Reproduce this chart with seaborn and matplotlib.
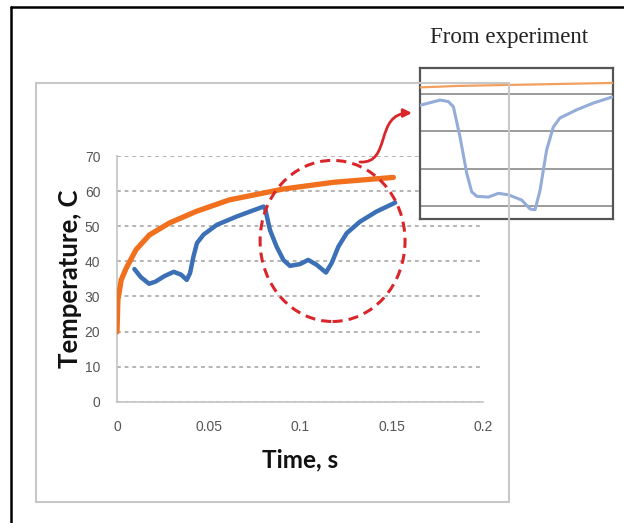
import matplotlib
matplotlib.use("Agg")
import matplotlib.pyplot as plt
import seaborn as sns
import pandas as pd
from matplotlib.patches import Ellipse, Rectangle, FancyArrowPatch
from matplotlib.path import Path
from matplotlib.lines import Line2D

# simulated temperature (orange)
orange_time = [0, 0.0005, 0.0023, 0.005, 0.0104, 0.0177, 0.0286, 0.0432,
               0.0614, 0.0796, 0.0909, 0.1182, 0.151]
orange_temp = [19.9, 29.0, 34.7, 38.0, 43.3, 47.5, 50.9, 54.2,
               57.5, 59.4, 60.6, 62.5, 63.9]

# simulated temperature (blue)
blue_time = [0.0095, 0.013, 0.0175, 0.021, 0.026, 0.031, 0.035, 0.0381,
             0.0399, 0.0418, 0.0437, 0.0473, 0.0546, 0.0656, 0.0801,
             0.0809, 0.0836, 0.0872, 0.0909, 0.0945, 0.1, 0.1045, 0.1091,
             0.1142, 0.1173, 0.121, 0.1255, 0.1328, 0.1419, 0.152]
blue_temp = [37.8, 35.5, 33.6, 34.2, 35.8, 37.0, 36.2, 34.7,
             36.6, 41.4, 45.2, 47.6, 50.4, 52.8, 55.6,
             55.1, 48.9, 44.2, 40.4, 38.7, 39.2, 40.4, 39.0,
             36.8, 39.5, 44.2, 48.0, 51.3, 54.2, 56.7]

# inset "From experiment" (arbitrary units)
exp_x = [0, 10.4, 14.7, 17.3, 20.7, 24.2, 26.8, 29.4, 35.4, 40.6, 45.8,
         52.7, 57.0, 59.6, 62.2, 65.6, 69.1, 72.5, 81.2, 89.8, 99.4]
exp_blue = [53.5, 54.2, 54.0, 53.3, 49.3, 44.4, 41.9, 41.3, 41.2, 41.7, 41.5,
            40.8, 39.6, 39.5, 42.1, 47.5, 50.6, 51.8, 52.9, 53.8, 54.6]
exp_orange_x = [0, 20, 40, 60, 80, 100]
exp_orange = [55.9, 56.1, 56.2, 56.3, 56.4, 56.5]

y_ticks = [0, 10, 20, 30, 40, 50, 60, 70]
x_ticks = [0, 0.05, 0.1, 0.15, 0.2]
x_ticklabels = ["0", "0.05", "0.1", "0.15", "0.2"]

ORANGE = "#f0701e"
BLUE = "#3b6fb6"
RED = "#d9262b"
W, H = 624, 523


def fx(px):
    return px / W


def fy(py):
    return 1 - py / H


sns.set_style("white")
fig = plt.figure(figsize=(6.24, 5.23), dpi=100)

# black border (left and top only) and light grey chart frame
fig.add_artist(Line2D([fx(11), fx(11)], [fy(7), 0], color="black", lw=1.8))
fig.add_artist(Line2D([fx(11), 1], [fy(7), fy(7)], color="black", lw=1.8))
fig.add_artist(Rectangle((fx(36), fy(501.5)), fx(509) - fx(36), fy(83) - fy(501.5),
                         fill=False, ec="#c8c8c8", lw=1.5))

ax = fig.add_axes([fx(117), fy(401.7), fx(483) - fx(117), fy(156) - fy(401.7)])
sim_orange = pd.DataFrame({"time": orange_time, "temp": orange_temp})
sim_blue = pd.DataFrame({"time": blue_time, "temp": blue_temp})
sns.lineplot(data=sim_orange, x="time", y="temp", ax=ax, color=ORANGE, lw=3.8,
             sort=False, estimator=None, zorder=3)
sns.lineplot(data=sim_blue, x="time", y="temp", ax=ax, color=BLUE, lw=3.2,
             sort=False, estimator=None, zorder=3)

ax.set_xlim(0, 0.2)
ax.set_ylim(0, 70)
ax.set_yticks(y_ticks)
ax.set_xticks(x_ticks)
ax.set_xticklabels(x_ticklabels)
ax.yaxis.grid(True, ls=(0, (2.5, 2.5)), color="#a0a0a0", lw=1.1)
ax.xaxis.grid(False)
for side in ["top", "right"]:
    ax.spines[side].set_visible(False)
for side in ["left", "bottom"]:
    ax.spines[side].set_color("#c4c4c4")
    ax.spines[side].set_linewidth(1.2)
ax.tick_params(axis="y", length=0, pad=12, labelsize=10, labelcolor="#555555")
ax.tick_params(axis="x", length=0, pad=13, labelsize=10, labelcolor="#555555")
for lab in ax.get_xticklabels() + ax.get_yticklabels():
    lab.set_family("Liberation Sans")
ax.set_xlabel("")
ax.set_ylabel("")

fig.text(fx(300), fy(460), "Time, s", ha="center", va="center", family="Lato",
         weight="bold", size=17.5, color="#111111")
fig.text(fx(70), fy(279), "Temperature, C", ha="center", va="center", rotation=90,
         family="Lato", weight="bold", size=18.5, color="#111111")

# red dashed circle around the second dip
ax.add_patch(Ellipse((0.1178, 45.8), 0.0792, 45.9, fill=False, ec=RED, lw=2.2,
                     ls=(0, (3.3, 2.0)), clip_on=False, zorder=5))

# curved arrow to the inset
arrow_path = Path([(fx(360), fy(162)), (fx(392), fy(164)), (fx(374), fy(113)),
                   (fx(412), fy(113))],
                  [Path.MOVETO, Path.CURVE4, Path.CURVE4, Path.CURVE4])
fig.add_artist(FancyArrowPatch(path=arrow_path, transform=fig.transFigure,
                               arrowstyle="-|>", mutation_scale=12, color=RED, lw=2))

# inset from experiment
ins = fig.add_axes([fx(420), fy(219), fx(613) - fx(420), fy(68) - fy(219)])
ins.set_facecolor("white")
exp_o = pd.DataFrame({"x": exp_orange_x, "y": exp_orange})
exp_b = pd.DataFrame({"x": exp_x, "y": exp_blue})
sns.lineplot(data=exp_o, x="x", y="y", ax=ins, color="#f2a060", lw=1.6,
             sort=False, estimator=None, zorder=3)
sns.lineplot(data=exp_b, x="x", y="y", ax=ins, color="#93acd8", lw=2.2,
             sort=False, estimator=None, zorder=3)
ins.set_xlim(0, 100)
ins.set_ylim(38.26, 58.5)
ins.set_yticks([40, 45, 50, 55])
ins.set_xticks([])
ins.yaxis.grid(True, color="#8a8a8a", lw=1.2)
ins.tick_params(axis="y", length=0, labelleft=False)
ins.set_xlabel("")
ins.set_ylabel("")
for sp in ins.spines.values():
    sp.set_visible(True)
    sp.set_color("#555555")
    sp.set_linewidth(1.6)

fig.text(fx(509), fy(43), "From experiment", ha="center", va="baseline",
         family="Liberation Serif", size=16.5, color="#222222")

fig.savefig("out.png", dpi=100)
